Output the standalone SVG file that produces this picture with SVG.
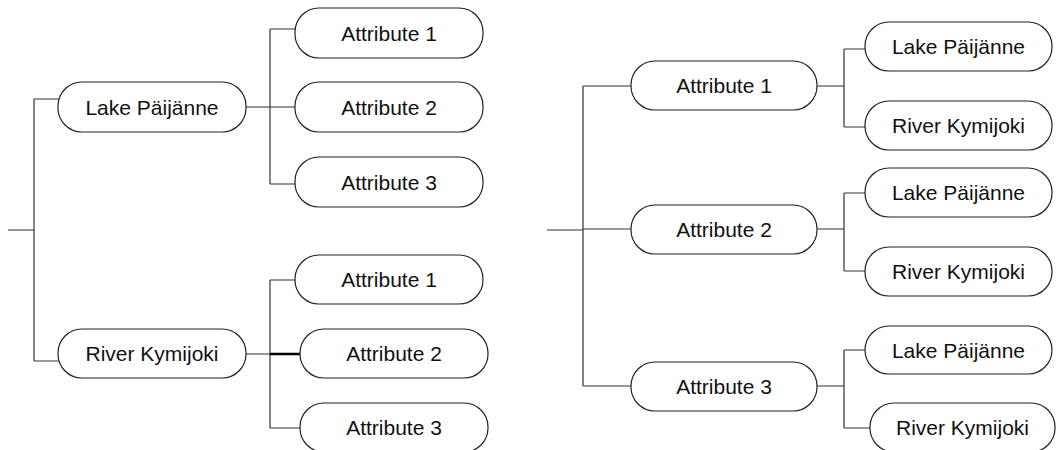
<svg xmlns="http://www.w3.org/2000/svg" width="1056" height="450" viewBox="0 0 1056 450">
  <style>
    .node rect { fill: #ffffff; stroke: #222222; stroke-width: 1.2; }
    .node text { font-family: "Liberation Sans", Arial, sans-serif; font-size: 21px; fill: #111111; text-anchor: middle; }
    #connectors path { fill: none; stroke: #333333; stroke-width: 1.2; }
    #connectors path.bold { stroke: #000000; stroke-width: 2.4; }
  </style>
  <rect width="1056" height="450" fill="#ffffff"/>

  <!-- tree lines -->
  <g id="connectors">
    <!-- left tree: sites to attributes -->
    <path d="M8,230 H34 M34,99 V361 M34,99 H60 M34,361 H60"/>
    <path d="M246,107 H270 M270,29 V184 M270,29 H297 M270,107 H295 M270,184 H297"/>
    <path d="M246,354 H270 M270,280 V428 M270,280 H297 M270,428 H302"/>
    <path class="bold" d="M270,354 H304"/>
    <!-- right tree: attributes to sites -->
    <path d="M547,230 H583 M583,86 V386 M583,86 H633 M583,229 H633 M583,386 H633"/>
    <path d="M817,86 H844 M844,49 V127 M844,49 H867 M844,127 H867"/>
    <path d="M817,229 H844 M844,193 V271 M844,193 H867 M844,271 H867"/>
    <path d="M817,386 H844 M844,350 V428 M844,350 H867 M844,428 H872"/>
  </g>

  <!-- left tree nodes -->
  <g id="l-lake" class="node"><rect x="58" y="82" width="188" height="50" rx="24" ry="24"/><text x="152" y="114.5">Lake Päijänne</text></g>
  <g id="l-river" class="node"><rect x="58" y="329" width="188" height="49" rx="24" ry="24"/><text x="152" y="361">River Kymijoki</text></g>
  <g id="l-lake-a1" class="node"><rect x="295" y="8" width="188" height="50" rx="24" ry="24"/><text x="389" y="40.5">Attribute 1</text></g>
  <g id="l-lake-a2" class="node"><rect x="295" y="82" width="188" height="50" rx="24" ry="24"/><text x="389" y="114.5">Attribute 2</text></g>
  <g id="l-lake-a3" class="node"><rect x="295" y="157" width="188" height="50" rx="24" ry="24"/><text x="389" y="189.5">Attribute 3</text></g>
  <g id="l-river-a1" class="node"><rect x="295" y="255" width="188" height="49" rx="24" ry="24"/><text x="389" y="287">Attribute 1</text></g>
  <g id="l-river-a2" class="node"><rect x="300" y="329" width="188" height="49" rx="24" ry="24"/><text x="394" y="361">Attribute 2</text></g>
  <g id="l-river-a3" class="node"><rect x="300" y="403" width="188" height="49" rx="24" ry="24"/><text x="394" y="435">Attribute 3</text></g>

  <!-- right tree nodes -->
  <g id="r-a1" class="node"><rect x="631" y="61" width="186" height="49" rx="24" ry="24"/><text x="724" y="93">Attribute 1</text></g>
  <g id="r-a2" class="node"><rect x="631" y="205" width="186" height="49" rx="24" ry="24"/><text x="724" y="237">Attribute 2</text></g>
  <g id="r-a3" class="node"><rect x="631" y="362" width="186" height="49" rx="24" ry="24"/><text x="724" y="394">Attribute 3</text></g>
  <g id="r-a1-lake" class="node"><rect x="865" y="22" width="187" height="49" rx="24" ry="24"/><text x="958.5" y="54">Lake Päijänne</text></g>
  <g id="r-a1-river" class="node"><rect x="865" y="101" width="187" height="49" rx="24" ry="24"/><text x="958.5" y="133">River Kymijoki</text></g>
  <g id="r-a2-lake" class="node"><rect x="865" y="168" width="187" height="49" rx="24" ry="24"/><text x="958.5" y="200">Lake Päijänne</text></g>
  <g id="r-a2-river" class="node"><rect x="865" y="247" width="187" height="49" rx="24" ry="24"/><text x="958.5" y="279">River Kymijoki</text></g>
  <g id="r-a3-lake" class="node"><rect x="865" y="326" width="187" height="48" rx="24" ry="24"/><text x="958.5" y="357.5">Lake Päijänne</text></g>
  <g id="r-a3-river" class="node"><rect x="870" y="403" width="185" height="49" rx="24" ry="24"/><text x="962.5" y="435">River Kymijoki</text></g>
</svg>
